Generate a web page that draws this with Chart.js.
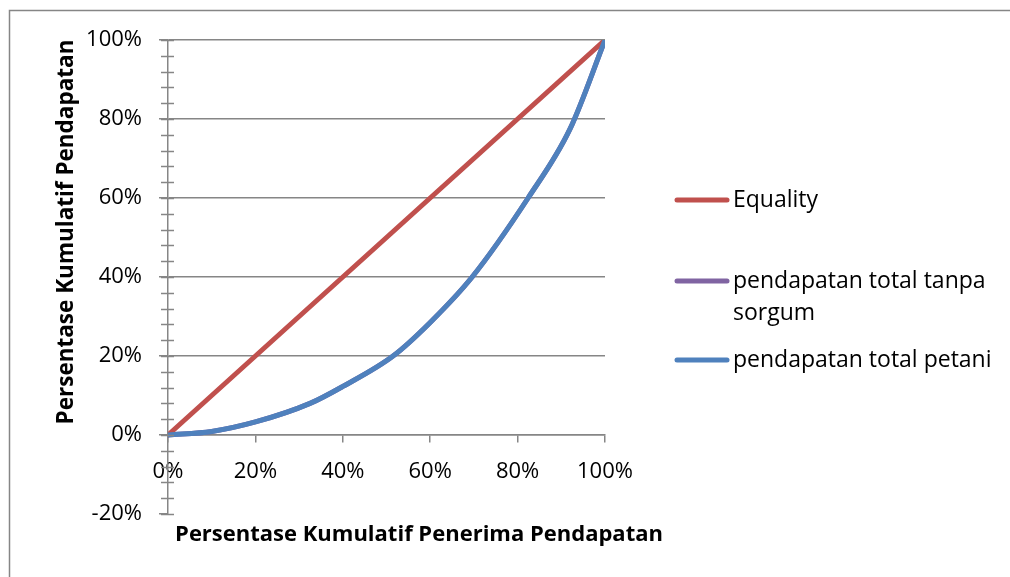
<!DOCTYPE html>
<html>
<head>
<meta charset="utf-8">
<script src="https://cdn.jsdelivr.net/npm/chart.js@4.4.0/dist/chart.umd.min.js"></script>
<style>
  html, body { margin: 0; padding: 0; background: #fff; }
</style>
</head>
<body>
<canvas id="chart1" width="1010" height="577"></canvas>
<script>
// data (percent)
const seriesNames = ['Equality', 'pendapatan total tanpa sorgum', 'pendapatan total petani'];
const seriesColors = ['#C0504D', '#8064A2', '#4F81BD'];
const equalityX = [0, 100];
const equalityY = [0, 100];
const petaniX = [0, 10, 20, 32.5, 40, 51.5, 60, 69.6, 82.4, 92, 100];
const petaniY = [0, 0.9, 3.3, 8, 12.3, 20, 28.5, 40, 60, 77.5, 100];
const tanpaSorgumX = [0, 10, 20, 32.5, 40, 51.5, 60, 69.6, 82.4, 92, 100];
const tanpaSorgumY = [0, 0.9, 3.3, 8, 12.3, 20, 28.5, 40, 60, 77.5, 100];
const xTicks = [0, 20, 40, 60, 80, 100];
const yTicks = [-20, 0, 20, 40, 60, 80, 100];
const yMinorStep = 4;
const xTitle = 'Persentase Kumulatif Penerima Pendapatan';
const yTitle = 'Persentase Kumulatif Pendapatan';

const toPoints = (xs, ys) => xs.map((x, i) => ({ x: x, y: ys[i] }));
const gridGray = '#868686';
const tickFont = { family: 'Open Sans', size: 22 };

// frame, minor ticks, titles and legend
const extras = {
  id: 'extras',
  beforeDraw(chart) {
    const c = chart.ctx;
    c.save();
    c.strokeStyle = gridGray;
    c.lineWidth = 1.5;
    c.strokeRect(9.5, 10.5, 1200, 800);
    c.restore();
  },
  afterDraw(chart) {
    const c = chart.ctx;
    const ys = chart.scales.y;
    const ax = chart.chartArea.left;
    c.save();
    c.strokeStyle = gridGray;
    c.lineWidth = 1.5;
    for (let v = yTicks[0]; v <= yTicks[yTicks.length - 1]; v += yMinorStep) {
      const py = Math.round(ys.getPixelForValue(v)) + 0.5;
      c.beginPath();
      c.moveTo(ax - 7, py);
      c.lineTo(ax + 6, py);
      c.stroke();
    }
    // axis titles
    c.fillStyle = '#000';
    c.font = 'bold 22px "Open Sans"';
    c.textAlign = 'center';
    c.textBaseline = 'middle';
    c.fillText(xTitle, 419, 535);
    c.save();
    c.translate(67, 232);
    c.rotate(-Math.PI / 2);
    c.font = 'bold 22.5px "Open Sans"';
    c.fillText(yTitle, 0, 0);
    c.restore();
    // legend
    const rows = [200, 281, 360];
    const maxW = 275;
    c.font = '23px "Open Sans"';
    c.textAlign = 'left';
    chart.data.datasets.forEach((ds, i) => {
      const y = rows[i];
      c.strokeStyle = ds.borderColor;
      c.lineWidth = 5;
      c.lineCap = 'round';
      c.beginPath();
      c.moveTo(677, y);
      c.lineTo(727, y);
      c.stroke();
      const words = ds.label.split(' ');
      let line = '', ly = y;
      words.forEach(w => {
        const test = line ? line + ' ' + w : w;
        if (c.measureText(test).width > maxW && line) {
          c.fillText(line, 733, ly);
          line = w;
          ly += 32;
        } else {
          line = test;
        }
      });
      c.fillText(line, 733, ly);
    });
    c.restore();
  }
};

const ctx = document.getElementById('chart1').getContext('2d');
let myChart = new Chart(ctx, {
  type: 'scatter',
  data: {
    datasets: [{
      label: seriesNames[0],
      data: toPoints(equalityX, equalityY),
      borderColor: seriesColors[0],
      order: 1
    }, {
      label: seriesNames[1],
      data: toPoints(tanpaSorgumX, tanpaSorgumY),
      borderColor: seriesColors[1],
      order: 2
    }, {
      label: seriesNames[2],
      data: toPoints(petaniX, petaniY),
      borderColor: seriesColors[2],
      order: 0
    }].map(ds => Object.assign(ds, {
      showLine: true,
      borderWidth: 5,
      pointRadius: 0,
      fill: false,
      cubicInterpolationMode: 'monotone',
      borderCapStyle: 'round'
    }))
  },
  options: {
    responsive: false,
    animation: false,
    layout: { padding: { left: 0, top: 40, right: 405, bottom: 63 } },
    plugins: { legend: { display: false }, tooltip: { enabled: false } },
    scales: {
      x: {
        type: 'linear',
        min: 0,
        max: 100,
        position: { y: 0 },
        afterFit: s => { s.height = 0; },
        afterBuildTicks: s => { s.ticks = xTicks.map(v => ({ value: v })); },
        ticks: { callback: v => v + '%', font: tickFont, color: '#000', padding: 17, maxRotation: 0 },
        grid: { drawOnChartArea: false, tickLength: 7, color: gridGray, lineWidth: 1.5 },
        border: { color: gridGray, width: 1.5 }
      },
      y: {
        min: -20,
        max: 100,
        afterFit: s => { s.width = 168; },
        afterBuildTicks: s => { s.ticks = yTicks.map(v => ({ value: v })); },
        ticks: { callback: v => v + '%', font: tickFont, color: '#000', padding: 17 },
        grid: {
          color: c => (c.tick && c.tick.value === -20) ? 'rgba(0,0,0,0)' : gridGray,
          tickColor: gridGray,
          tickLength: 9,
          lineWidth: 1.5
        },
        border: { color: gridGray, width: 1.5 }
      }
    }
  },
  plugins: [extras]
});
</script>
</body>
</html>
